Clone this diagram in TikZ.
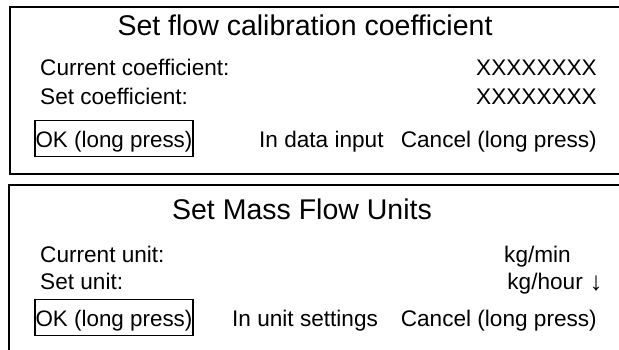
\documentclass[tikz,border=0pt]{standalone}
\usepackage{fontspec}
\setmainfont{Liberation Sans}
\usetikzlibrary{positioning}
\tikzstyle{frame} = [line width=2pt]
\tikzstyle{title} = [inner sep=0pt, font=\fontsize{28.5}{32}\selectfont]
\tikzstyle{txt} = [inner sep=0pt, font=\fontsize{22.6}{26}\selectfont]
\tikzstyle{okbox} = [txt, font=\fontsize{22.4}{26}\selectfont, draw, line width=1.5pt,
                     inner xsep=0.8pt, inner ysep=2.5pt, text height=24pt, text depth=7pt]

\begin{document}
\begin{tikzpicture}[x=1pt, y=-1pt]
    \useasboundingbox (0,0) rectangle (619,349);
    \clip (0,0) rectangle (619,349);

    % Calibration panel
    \draw[frame] (10,7) rectangle (640,174);
    \node[title, anchor=base] (calTitle) at (305,35) {Set flow calibration coefficient};
    \node[txt, anchor=base west] (calCur) at (40,75) {Current coefficient:};
    \node[txt, anchor=base east] (calCurVal) at (597,75) {XXXXXXXX};
    \node[txt, anchor=base west] (calSet) at (40,104) {Set coefficient:};
    \node[txt, anchor=base east] (calSetVal) at (597,104) {XXXXXXXX};
    \node[okbox, anchor=base west] (calOk) at (34,147) {OK (long press)};
    \node[txt, anchor=base west] (calMode) at (259,147) {In data input};
    \node[txt, anchor=base east] (calCancel) at (597,147) {Cancel (long press)};

    % Units panel
    \draw[frame] (9,185) rectangle (640,400);
    \node[title, anchor=base] (unitTitle) at (302,219) {Set Mass Flow Units};
    \node[txt, anchor=base west] (unitCur) at (40,262) {Current unit:};
    \node[txt, anchor=base east] (unitCurVal) at (571,262) {kg/min};
    \node[txt, anchor=base west] (unitSet) at (40,289) {Set unit:};
    \node[txt, anchor=base east] (unitSetVal) at (583,289) {kg/hour};
    \node[txt, anchor=base, font=\fontsize{26}{29}\selectfont] (unitArrow) at (596,290) {↓};
    \node[okbox, anchor=base west] (unitOk) at (34,326) {OK (long press)};
    \node[txt, anchor=base west] (unitMode) at (232,326) {In unit settings};
    \node[txt, anchor=base east] (unitCancel) at (597,326) {Cancel (long press)};
\end{tikzpicture}
\end{document}
